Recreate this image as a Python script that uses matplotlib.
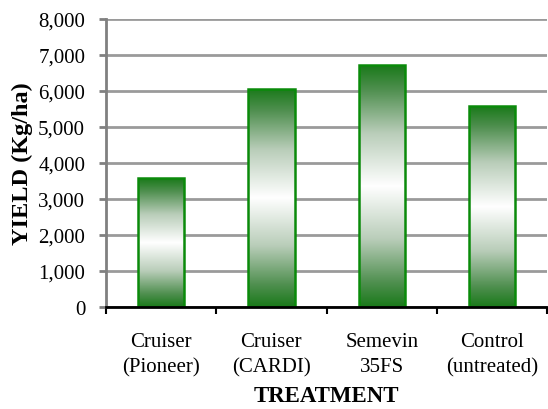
import numpy as np
import matplotlib.pyplot as plt
from matplotlib.colors import LinearSegmentedColormap
from matplotlib.ticker import FuncFormatter

treatments = ["Cruiser\n(Pioneer)", "Cruiser\n(CARDI)", "Semevin\n35FS", "Control\n(untreated)"]
yields = [3580, 6060, 6720, 5580]

plt.rcParams["font.family"] = ["Liberation Serif", "DejaVu Serif"]

fig = plt.figure(figsize=(5.48, 4.10), dpi=100)
ax = fig.add_axes([0.1934, 0.2488, 0.805, 0.7024])

x = np.arange(len(treatments))
bars = ax.bar(x, yields, width=0.42, facecolor="none", edgecolor="#0a8a0a",
              linewidth=1.8, zorder=4)

# vertical gradient: green - white - green
cmap = LinearSegmentedColormap.from_list(
    "gw", [(0, "#1a7a1a"), (0.1, "#4f8f4f"), (0.28, "#b9cdb9"), (0.5, "#ffffff"),
           (0.72, "#b9cdb9"), (0.9, "#4f8f4f"), (1, "#1a7a1a")])
grad = np.linspace(0, 1, 256).reshape(-1, 1)
for b in bars:
    x0, y0 = b.get_x(), b.get_y()
    w, h = b.get_width(), b.get_height()
    im = ax.imshow(grad, cmap=cmap, aspect="auto", extent=[x0, x0 + w, y0, y0 + h],
                   origin="lower", zorder=3, interpolation="bilinear")
    im.set_clip_path(b)

ax.set_xlim(-0.5, 3.5)
ax.set_ylim(0, 8000)
ax.set_yticks(np.arange(0, 8001, 1000))
ax.yaxis.set_major_formatter(FuncFormatter(lambda v, p: f"{int(v):,}"))
ax.grid(axis="y", color="#9a9a9a", linewidth=2, zorder=1)
ax.set_axisbelow(True)

ax.spines["top"].set_visible(False)
ax.spines["right"].set_visible(False)
ax.spines["left"].set_color("#808080")
ax.spines["left"].set_linewidth(2)
ax.spines["bottom"].set_color("black")
ax.spines["bottom"].set_linewidth(2)
ax.spines["bottom"].set_zorder(5)

ax.set_xticks(x)
ax.set_xticklabels(treatments, fontsize=15, linespacing=1.45)
ax.set_xticks(np.arange(-0.5, 3.6, 1), minor=True)
ax.tick_params(axis="x", which="major", length=0, pad=18)
ax.tick_params(axis="x", which="minor", length=5, width=1.5, color="black", direction="out")
ax.tick_params(axis="y", length=5, width=2, color="#808080", direction="out",
               labelsize=15, pad=10)

ax.set_ylabel("YIELD (Kg/ha)", fontsize=17.5, fontweight="bold", labelpad=4)
ax.set_xlabel("TREATMENT", fontsize=16.5, fontweight="bold", labelpad=6)

fig.savefig("out.png", dpi=100)
